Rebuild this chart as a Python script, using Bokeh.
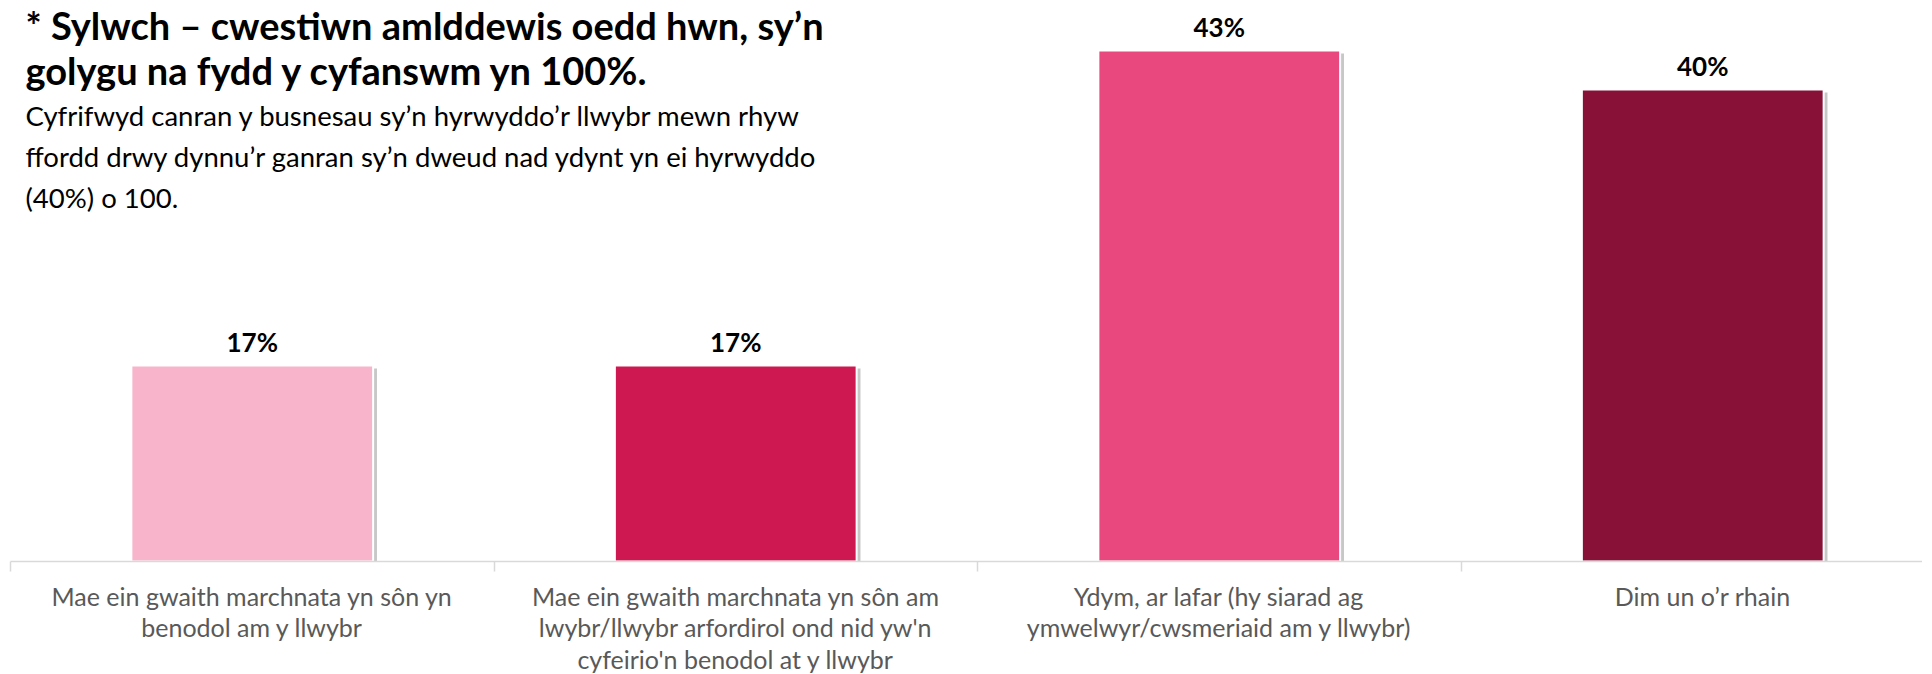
from bokeh.plotting import figure
from bokeh.models import ColumnDataSource, FixedTicker, Label, Range1d
from bokeh.core.properties import value
from bokeh.embed import file_html
from bokeh.resources import INLINE

# ---- data ----
categories = [
    "Mae ein gwaith marchnata yn sôn yn\nbenodol am y llwybr",
    "Mae ein gwaith marchnata yn sôn am\nlwybr/llwybr arfordirol ond nid yw'n\ncyfeirio'n benodol at y llwybr",
    "Ydym, ar lafar (hy siarad ag\nymwelwyr/cwsmeriaid am y llwybr)",
    "Dim un o’r rhain",
]
values = [16.6, 16.6, 43.3, 40.0]
value_labels = [f"{round(v)}%" for v in values]
colors = ["#F7B4CA", "#CD1852", "#E8487D", "#881138"]
title_text = "* Sylwch – cwestiwn amlddewis oedd hwn, sy’n\ngolygu na fydd y cyfanswm yn 100%."
subtitle_text = ("Cyfrifwyd canran y busnesau sy’n hyrwyddo’r llwybr mewn rhyw\n"
                 "ffordd drwy dynnu’r ganran sy’n dweud nad ydynt yn ei hyrwyddo\n"
                 "(40%) o 100.")

FONT = "Lato"
xs = list(range(len(categories)))
boundaries = [i - 0.5 for i in xs]

src = ColumnDataSource(dict(
    x=xs,
    xs=[x + 0.008 for x in xs],
    top=values,
    stop=[v - 0.25 for v in values],
    color=colors,
    label=value_labels,
))

FRAME_W, FRAME_H = 1912, 555
p = figure(
    frame_width=FRAME_W, frame_height=FRAME_H,
    x_range=Range1d(-0.5, -0.5 + FRAME_W / 483.5),
    y_range=Range1d(0, FRAME_H / 11.8),
    output_backend="svg", toolbar_location=None,
    min_border_left=10, min_border_right=0, min_border_top=6, min_border_bottom=2,
)
p.outline_line_color = None
p.xgrid.visible = False
p.ygrid.visible = False
p.yaxis.visible = False
p.background_fill_color = "white"
p.border_fill_color = "white"

# shadow
p.vbar(x="xs", top="stop", bottom=0, width=0.5, source=src,
       fill_color="#000000", fill_alpha=0.22, line_color=None)
# bars
p.vbar(x="x", top="top", bottom=0, width=0.5, source=src,
       fill_color="color", line_color="white", line_width=2)

# value labels
p.text(x="x", y="top", text="label", source=src,
       text_font=value(FONT), text_font_style="bold", text_font_size="26px",
       text_color="#000000", text_align="center", text_baseline="middle",
       y_offset=-24)

ax = p.xaxis[0]
ax.ticker = FixedTicker(ticks=xs, minor_ticks=boundaries)
ax.major_label_overrides = {x: c for x, c in zip(xs, categories)}
ax.axis_line_color = "#d9d9d9"
ax.axis_line_width = 1.5
ax.major_tick_line_color = None
ax.major_tick_out = 0
ax.major_tick_in = 0
ax.minor_tick_line_color = "#d9d9d9"
ax.minor_tick_line_width = 1.5
ax.minor_tick_out = 10
ax.minor_tick_in = 0
ax.major_label_text_font = FONT
ax.major_label_text_font_size = "25px"
ax.major_label_text_line_height = 1.055
ax.major_label_text_color = "#595959"
ax.major_label_standoff = 9

title = Label(x=15, y=FRAME_H + 5, x_units="screen", y_units="screen",
              text=title_text, text_font=FONT, text_font_style="bold",
              text_font_size="38px", text_color="#000000",
              text_baseline="top", text_align="left", text_line_height=0.99)
p.add_layout(title)
sub = Label(x=15, y=FRAME_H - 92.5, x_units="screen", y_units="screen",
            text=subtitle_text, text_font=FONT, text_font_size="27.5px",
            text_color="#000000", text_baseline="top", text_align="left",
            text_line_height=1.24)
p.add_layout(sub)

open("out.html", "w").write(file_html(p, INLINE))
